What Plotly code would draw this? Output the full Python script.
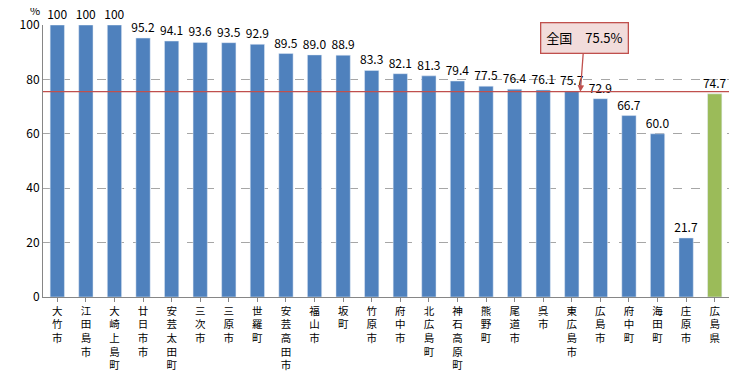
import plotly.graph_objects as go

categories = ["大竹市", "江田島市", "大崎上島町", "廿日市市", "安芸太田町", "三次市", "三原市", "世羅町",
              "安芸高田市", "福山市", "坂町", "竹原市", "府中市", "北広島町", "神石高原町", "熊野町",
              "尾道市", "呉市", "東広島市", "広島市", "府中町", "海田町", "庄原市", "広島県"]
values = [100, 100, 100, 95.2, 94.1, 93.6, 93.5, 92.9, 89.5, 89.0, 88.9, 83.3, 82.1, 81.3,
          79.4, 77.5, 76.4, 76.1, 75.7, 72.9, 66.7, 60.0, 21.7, 74.7]
labels = ["100", "100", "100", "95.2", "94.1", "93.6", "93.5", "92.9", "89.5", "89.0", "88.9", "83.3",
          "82.1", "81.3", "79.4", "77.5", "76.4", "76.1", "75.7", "72.9", "66.7", "60.0", "21.7", "74.7"]
national = 75.5
yticks = [0, 20, 40, 60, 80, 100]

colors = ["#4F81BD"] * (len(categories) - 1) + ["#9BBB59"]
ticktext = ["<br>".join(list(c)) for c in categories]
FONT = "Noto Sans CJK JP"

fig = go.Figure()
fig.add_trace(go.Bar(
    x=list(range(len(categories))), y=values, marker_color=colors, width=0.5,
    text=labels, textposition="outside", cliponaxis=False, constraintext="none",
    textfont=dict(size=12, color="#000000", family=FONT),
))

fig.add_shape(type="line", xref="paper", yref="y", x0=0, x1=1, y0=national, y1=national,
              line=dict(color="#C0504D", width=1.3))

fig.add_annotation(x=18.3, y=national, xref="x", yref="y", text="全国　75.5%",
                   showarrow=True, arrowhead=2, arrowsize=1, arrowwidth=1.3, arrowcolor="#C0504D",
                   ax=4, ay=-54, bgcolor="#F2DCDB", bordercolor="#C0504D", borderwidth=1.3,
                   borderpad=5, font=dict(size=13, color="#000000", family=FONT))

fig.add_annotation(x=0, y=1, xref="paper", yref="paper", text="%", showarrow=False,
                   xanchor="right", yanchor="bottom", xshift=-1, yshift=5,
                   font=dict(size=11, color="#000000", family=FONT))

fig.update_layout(
    width=748, height=371, margin=dict(l=35, r=27, t=17, b=82),
    paper_bgcolor="white", plot_bgcolor="white", showlegend=False, bargap=0.5,
    font=dict(family=FONT, size=12, color="#000000"),
)
fig.update_xaxes(
    tickmode="array", tickvals=list(range(len(categories))), ticktext=ticktext,
    range=[-0.5, len(categories) - 0.5], showline=True, linecolor="#868686", linewidth=1,
    ticks="outside", tickson="boundaries", ticklen=4, tickcolor="#868686",
    tickangle=0, showgrid=False, tickfont=dict(size=10.5, family=FONT), automargin=False,
)
fig.update_yaxes(
    range=[0, 100], tickvals=yticks, showline=True, linecolor="#868686", linewidth=1,
    showgrid=True, gridcolor="#A6A6A6", griddash="dash", gridwidth=1,
    ticks="", tickfont=dict(size=12, family=FONT), zeroline=False, automargin=False,
)

fig.write_html("out.html")
